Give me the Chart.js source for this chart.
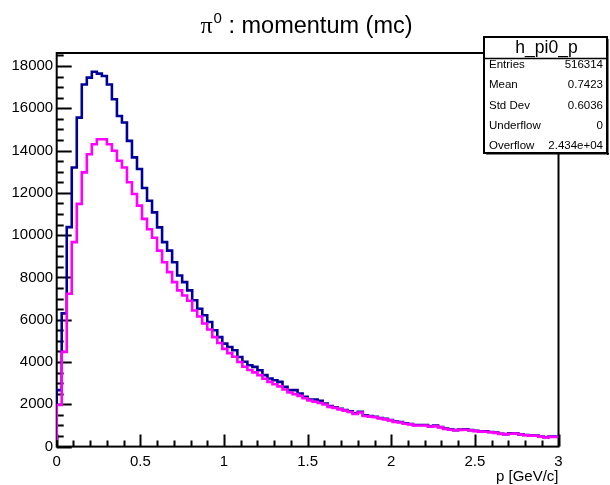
<!DOCTYPE html>
<html>
<head>
<meta charset="utf-8">
<title>pi0 : momentum (mc)</title>
<script src="https://cdn.jsdelivr.net/npm/chart.js@4.4.1/dist/chart.umd.min.js"></script>
<style>
  html, body { margin: 0; padding: 0; background: #fff; }
  #wrap { position: relative; width: 610px; height: 485px; }
</style>
</head>
<body>
<div id="wrap"><canvas id="histo" width="610" height="485"></canvas></div>
<script>
// --- data ---
// 100 bins between 0 and 3 GeV/c
const xMin = 0;
const xMax = 3;
const nBins = 100;

// h_pi0_p (dark blue)
const blueCounts = [
  500, 2670, 6300, 10380, 13200, 15560, 17130, 17450, 17730, 17640,
  17530, 17130, 16430, 15640, 15330, 14460, 13680, 13130, 12230, 11630,
  11080, 10370, 9670, 9270, 8720, 8090, 7780, 7390, 6920, 6520,
  6210, 5890, 5500, 5180, 4870, 4710, 4560, 4240, 4010, 3850,
  3770, 3610, 3380, 3220, 3140, 3060, 2830, 2670, 2670, 2510,
  2350, 2230, 2230, 2170, 2040, 1920, 1860, 1790, 1730, 1670,
  1570, 1650, 1480, 1450, 1410, 1350, 1320, 1260, 1180, 1160,
  1100, 1070, 1020, 1020, 1020, 960, 990, 930, 850, 820,
  780, 810, 820, 780, 750, 720, 720, 690, 660, 610,
  590, 630, 630, 580, 550, 530, 520, 480, 440, 470
];

// overlay (magenta)
const pinkCounts = [
  300, 1970, 4480, 7230, 9670, 11480, 12970, 13830, 14300, 14540,
  14540, 14300, 13990, 13520, 13200, 12500, 11950, 11400, 10770, 10280,
  9880, 9270, 8720, 8250, 7780, 7390, 7150, 6900, 6440, 6150,
  5820, 5540, 5180, 4900, 4620, 4420, 4250, 4000, 3780, 3620,
  3510, 3380, 3210, 3060, 2950, 2850, 2700, 2560, 2480, 2400,
  2290, 2180, 2120, 2060, 1990, 1880, 1830, 1760, 1700, 1640,
  1540, 1610, 1450, 1420, 1390, 1330, 1290, 1240, 1160, 1140,
  1080, 1050, 1000, 1000, 1000, 940, 970, 910, 830, 800,
  770, 790, 800, 770, 730, 710, 700, 680, 650, 600,
  580, 610, 620, 570, 540, 520, 510, 470, 430, 460
];

const xTickValues = [0, 0.5, 1, 1.5, 2, 2.5, 3];
const xTickLabels = ['0', '0.5', '1', '1.5', '2', '2.5', '3'];
const yTickValues = [0, 2000, 4000, 6000, 8000, 10000, 12000, 14000, 16000, 18000];
const yTickLabels = ['0', '2000', '4000', '6000', '8000', '10000', '12000', '14000', '16000', '18000'];

const titleMain = 'π';
const titleSup = '0';
const titleRest = ' : momentum (mc)';
const xTitle = 'p [GeV/c]';

const statName = 'h_pi0_p';
const statLabels = ['Entries', 'Mean', 'Std Dev', 'Underflow', 'Overflow'];
const statValues = ['516314', '0.7423', '0.6036', '0', '2.434e+04'];

// --- helpers ---
const FONT = '"Liberation Sans", Arial, Helvetica, sans-serif';

// histogram outline: one point per low bin edge, plus the closing edge
function toSteps(counts) {
  const w = (xMax - xMin) / nBins;
  const pts = counts.map((c, i) => ({ x: xMin + i * w, y: c }));
  pts.push({ x: xMax, y: counts[counts.length - 1] });
  return pts;
}

// ROOT puts the top of the frame at 1.05 x maximum
const yTop = Math.max(...blueCounts, ...pinkCounts) * 1.05;

// frame, inward ticks, stats box and titles drawn like ROOT does
const rootLook = {
  id: 'rootLook',
  beforeDatasetsDraw(chart) {
    const ctx = chart.ctx;
    const a = chart.chartArea;
    const xs = chart.scales.x;
    const ys = chart.scales.y;
    ctx.save();
    ctx.strokeStyle = '#000';
    ctx.lineWidth = 2;
    ctx.strokeRect(a.left, a.top, a.right - a.left, a.bottom - a.top);

    // x ticks (major 0.5, minor 0.1)
    ctx.beginPath();
    for (let k = 0; k <= 30; k++) {
      const v = k * 0.1;
      const px = Math.round(xs.getPixelForValue(v)) + 0.5;
      const len = (k % 5 === 0) ? 12 : 6;
      ctx.moveTo(px, a.bottom);
      ctx.lineTo(px, a.bottom - len);
    }
    // y ticks (major 2000, minor 500)
    for (let v = 0; v <= yTop; v += 500) {
      const py = Math.round(ys.getPixelForValue(v)) + 0.5;
      const len = (v % 2000 === 0) ? 15 : 7;
      ctx.moveTo(a.left, py);
      ctx.lineTo(a.left + len, py);
    }
    ctx.lineWidth = 2;
    ctx.stroke();
    ctx.restore();
  },
  afterDraw(chart) {
    const ctx = chart.ctx;
    const a = chart.chartArea;
    ctx.save();

    // title
    ctx.fillStyle = '#000';
    ctx.textBaseline = 'alphabetic';
    const fMain = '24px "Liberation Serif", "Times New Roman", serif';
    const fSup = '15px ' + FONT;
    const fRest = '23.5px ' + FONT;
    ctx.font = fMain; const w1 = ctx.measureText(titleMain).width;
    ctx.font = fSup; const w2 = ctx.measureText(titleSup).width;
    ctx.font = fRest; const w3 = ctx.measureText(titleRest).width;
    let tx = 306 - (w1 + w2 + w3) / 2;
    ctx.textAlign = 'left';
    ctx.font = fMain; ctx.fillText(titleMain, tx, 33); tx += w1 + 1;
    ctx.font = fSup; ctx.fillText(titleSup, tx, 23); tx += w2;
    ctx.font = fRest; ctx.fillText(titleRest, tx, 33);

    // x axis title
    ctx.font = '15px ' + FONT;
    ctx.textAlign = 'right';
    ctx.fillText(xTitle, a.right, 481);

    // stats box
    const bx = 484, by = 37, bw = 123, bh = 116;
    ctx.fillStyle = '#fff';
    ctx.fillRect(bx, by, bw, bh);
    ctx.strokeStyle = '#000';
    ctx.lineWidth = 2;
    ctx.strokeRect(bx, by, bw, bh);
    ctx.fillStyle = '#000';
    ctx.fillRect(bx + bw, by + 2, 1.5, bh);
    ctx.fillRect(bx + 2, by + bh, bw, 1.5);
    ctx.lineWidth = 1.5;
    ctx.beginPath();
    ctx.moveTo(bx, 58.5);
    ctx.lineTo(bx + bw, 58.5);
    ctx.stroke();

    ctx.font = '17.5px ' + FONT;
    ctx.textAlign = 'center';
    ctx.fillText(statName, bx + bw / 2 + 1, 53);

    ctx.font = '11.5px ' + FONT;
    statLabels.forEach((lab, i) => {
      const yb = 67.7 + i * 20.4;
      ctx.textAlign = 'left';
      ctx.fillText(lab, 489, yb);
      ctx.textAlign = 'right';
      ctx.fillText(statValues[i], 603, yb);
    });
    ctx.restore();
  }
};

const ctx = document.getElementById('histo').getContext('2d');
new Chart(ctx, {
  type: 'line',
  data: {
    datasets: [
      {
        label: 'h_pi0_p',
        data: toSteps(blueCounts),
        stepped: 'after',
        borderColor: '#000099',
        borderWidth: 2.6,
        pointRadius: 0,
        fill: false,
        order: 2
      },
      {
        label: 'overlay',
        data: toSteps(pinkCounts),
        stepped: 'after',
        borderColor: '#ff00ff',
        borderWidth: 2.6,
        pointRadius: 0,
        fill: false,
        order: 1
      }
    ]
  },
  options: {
    responsive: false,
    devicePixelRatio: 1,
    animation: false,
    layout: { padding: { left: 0, top: 53, right: 51.5, bottom: 0 } },
    plugins: {
      legend: { display: false },
      tooltip: { enabled: false },
      title: { display: false }
    },
    scales: {
      x: {
        type: 'linear',
        min: xMin,
        max: xMax,
        grid: { display: false, drawTicks: false },
        border: { display: false },
        afterBuildTicks: s => { s.ticks = xTickValues.map(v => ({ value: v })); },
        afterFit: s => { s.height = 38.4; },
        ticks: {
          color: '#000',
          font: { family: FONT, size: 15 },
          padding: 6,
          maxRotation: 0,
          autoSkip: false,
          callback: (v) => xTickLabels[xTickValues.indexOf(v)]
        }
      },
      y: {
        type: 'linear',
        min: 0,
        max: yTop,
        grid: { display: false, drawTicks: false },
        border: { display: false },
        afterBuildTicks: s => { s.ticks = yTickValues.map(v => ({ value: v })); },
        afterFit: s => { s.width = 56.7; },
        ticks: {
          color: '#000',
          font: { family: FONT, size: 15 },
          padding: 3.5,
          autoSkip: false,
          callback: (v) => yTickLabels[yTickValues.indexOf(v)]
        }
      }
    }
  },
  plugins: [rootLook]
});
</script>
</body>
</html>
